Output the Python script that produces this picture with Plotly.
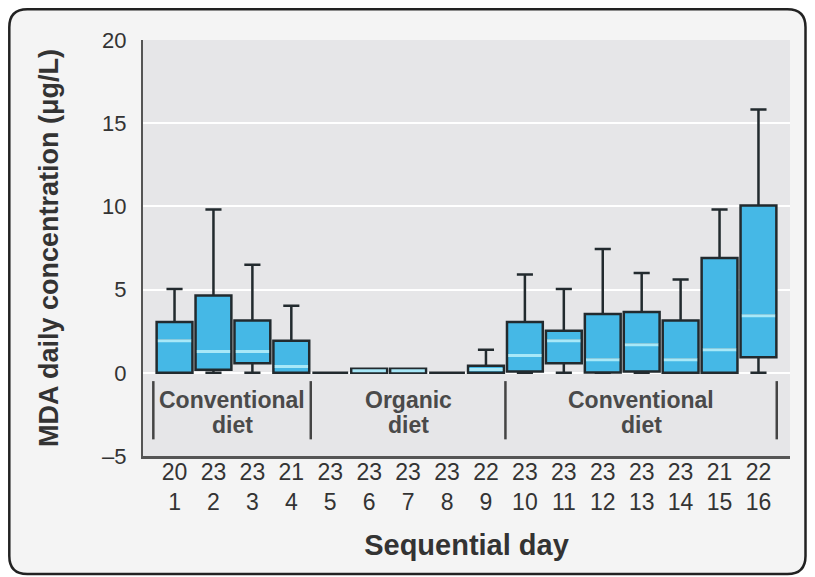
import plotly.graph_objects as go

# ---- data ----
days = list(range(1, 17))
n_subjects = [20, 23, 23, 21, 23, 23, 23, 23, 22, 23, 23, 23, 23, 23, 21, 22]
q1 = [0.0, 0.18, 0.58, 0.0, 0.0, 0.0, 0.0, 0.0, 0.0, 0.08, 0.58, 0.02, 0.08, 0.0, 0.0, 0.94]
median = [1.93, 1.28, 1.28, 0.38, 0.0, 0.12, 0.12, 0.0, 0.2, 1.04, 1.93, 0.78, 1.68, 0.78, 1.38, 3.43]
q3 = [3.05, 4.65, 3.15, 1.93, 0.0, 0.25, 0.25, 0.0, 0.42, 3.05, 2.53, 3.53, 3.65, 3.15, 6.9, 10.05]
lower_fence = [0.0, 0.0, 0.0, 0.0, 0.0, 0.0, 0.0, 0.0, 0.0, 0.0, 0.0, 0.0, 0.0, 0.0, 0.0, 0.0]
upper_fence = [5.04, 9.81, 6.5, 4.03, 0.0, 0.25, 0.25, 0.0, 1.38, 5.9, 5.04, 7.44, 6.0, 5.6, 9.81, 15.82]

y_ticks = [-5, 0, 5, 10, 15, 20]
y_ticktext = ["\u20135", "0", "5", "10", "15", "20"]

group_labels = ["Conventional<br>diet", "Organic<br>diet", "Conventional<br>diet"]
group_bounds = [(0.455, 4.5), (4.5, 9.5), (9.5, 16.47)]

# ---- styling ----
BOX_FILL = "#45b8e6"
BOX_LINE = "#222a2e"
MEDIAN_C = "#a8e8f8"
FONT = "Liberation Sans, Arial, sans-serif"

# the page has an 8px body margin, so the figure is offset by 8px
W, H = 807, 569
ML, MR, MT, MB = 135, 25, 32, 121
PW, PH = W - ML - MR, H - MT - MB

def px(x):
    return (x - ML) / PW

def py(y):
    return (H - MB - y) / PH

fig = go.Figure()

fig.add_trace(go.Box(
    x=days, q1=q1, median=median, q3=q3,
    lowerfence=lower_fence, upperfence=upper_fence,
    width=0.92, whiskerwidth=0.45,
    fillcolor=BOX_FILL, line=dict(color=BOX_LINE, width=2.5),
    boxpoints=False, hoverinfo="skip", showlegend=False,
))

# light median stripes drawn over the dark median line
mx, my = [], []
for d, lo, m, hi in zip(days, q1, median, q3):
    if hi > lo:
        mx += [d - 0.43, d + 0.43, None]
        my += [m, m, None]
fig.add_trace(go.Scatter(x=mx, y=my, mode="lines",
                         line=dict(color=MEDIAN_C, width=3),
                         hoverinfo="skip", showlegend=False))

shapes = []
# rounded outer frame
x0, x1, y0, y1, r = 1.3, 797.5, 1.3, 566.0, 18
path = (f"M {px(x0 + r)},{py(y0)} L {px(x1 - r)},{py(y0)} Q {px(x1)},{py(y0)} {px(x1)},{py(y0 + r)} "
        f"L {px(x1)},{py(y1 - r)} Q {px(x1)},{py(y1)} {px(x1 - r)},{py(y1)} "
        f"L {px(x0 + r)},{py(y1)} Q {px(x0)},{py(y1)} {px(x0)},{py(y1 - r)} "
        f"L {px(x0)},{py(y0 + r)} Q {px(x0)},{py(y0)} {px(x0 + r)},{py(y0)} Z")
shapes.append(dict(type="path", path=path, xref="paper", yref="paper",
                   fillcolor="#f4f4f4", line=dict(color="#222222", width=2.5), layer="below"))
# plot area background
shapes.append(dict(type="rect", xref="paper", yref="paper", x0=0, x1=1, y0=0, y1=1,
                   fillcolor="#e6e6e8", line=dict(width=0), layer="below"))
# group separators
seps = sorted(set([b for pair in group_bounds for b in pair]))
for s in seps:
    shapes.append(dict(type="line", xref="x", yref="y", x0=s, x1=s, y0=-0.5, y1=-4.0,
                       line=dict(color="#444444", width=2.5)))

annotations = []
for (a, b), lab in zip(group_bounds, group_labels):
    lines = lab.split("<br>")
    for i, t in enumerate(lines):
        annotations.append(dict(x=(a + b) / 2, y=-1.62 - i * 1.5, xref="x", yref="y",
                                text=t, showarrow=False,
                                font=dict(family=FONT, size=23, color="#4a4a4a", weight="bold")))

fig.update_layout(
    width=W, height=H,
    margin=dict(l=ML, r=MR, t=MT, b=MB, autoexpand=False),
    paper_bgcolor="white", plot_bgcolor="rgba(0,0,0,0)",
    shapes=shapes, annotations=annotations,
    showlegend=False,
)

fig.update_xaxes(
    range=[0.19, 16.81], tickmode="array", tickvals=days,
    ticktext=[f"{n}<br>{d}" for n, d in zip(n_subjects, days)],
    tickfont=dict(family=FONT, size=23, color="#333333"),
    showgrid=False, zeroline=False, showline=True, linecolor="#555555", linewidth=3,
    ticks="", ticklabelstandoff=-7,
    title=dict(text="Sequential day", font=dict(family=FONT, size=29, color="#333333", weight="bold"),
               standoff=22),
)
fig.update_yaxes(
    range=[-5, 20], tickmode="array", tickvals=y_ticks, ticktext=y_ticktext,
    tickfont=dict(family=FONT, size=22, color="#333333"),
    showgrid=True, gridcolor="white", gridwidth=2, zeroline=False,
    showline=True, linecolor="#555555", linewidth=2, ticks="", ticklabelstandoff=10,
    title=dict(text="MDA daily concentration (\u03bcg/L)",
               font=dict(family=FONT, size=27, color="#333333", weight="bold"), standoff=36),
)

fig.write_html("out.html")
